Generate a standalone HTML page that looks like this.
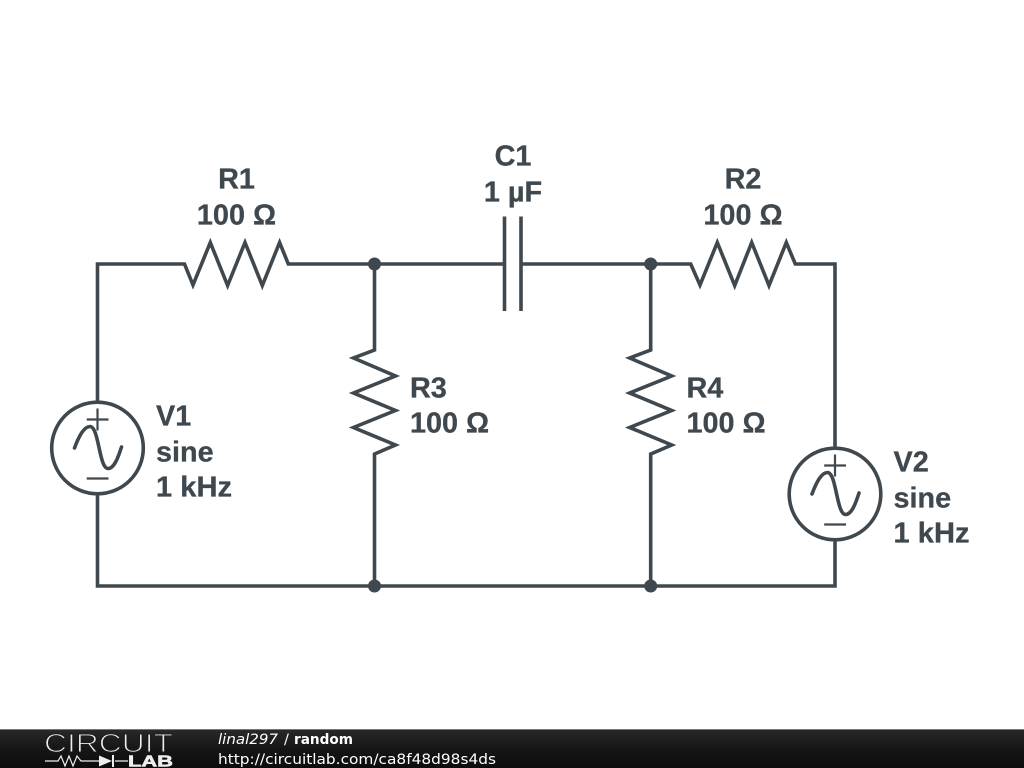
<!DOCTYPE html>
<html><head><meta charset="utf-8"><style>
html,body{margin:0;padding:0;background:#fff;width:1024px;height:768px;overflow:hidden}
svg{display:block}
.w{fill:none;stroke:#3f484e;stroke-width:3.6;stroke-linejoin:miter}
.p{fill:none;stroke:#3f484e;stroke-width:2.2}
.t{font-family:"Liberation Sans",sans-serif;font-weight:bold;font-size:28.8px;fill:#3f484e;stroke:#3f484e;stroke-width:0.3}
.f{font-family:"DejaVu Sans",sans-serif;fill:#fff}
</style></head><body>
<svg width="1024" height="768" viewBox="0 0 1024 768" xmlns="http://www.w3.org/2000/svg">
<defs>
<linearGradient id="g" x1="0" y1="0" x2="0" y2="1"><stop offset="0" stop-color="#2a2a2a"/><stop offset="0.5" stop-color="#161616"/><stop offset="1" stop-color="#0c0c0c"/></linearGradient>
</defs>
<rect width="1024" height="768" fill="#fff"/>
<path class="w" d="M97.5 402V264H184.5L193 285 210.3 242.5 227.6 285.500 245 242.5 262.3 285.500 279.6 242.5 288.3 264H504.5M521 264H690.7L700 285 717.3 242.5 734.7 285.500 751.7 242.5 769 285.500 786.3 242.5 795.3 264H835V448"/>
<path class="w" d="M97.5 494V586H835V541"/>
<path class="w" d="M504.5 216.5V311M521 216.5V311"/>
<path class="w" d="M374.5 264V350L353.500 358 395.500 376 353.500 393 395.500 410.5 353.500 427.5 395.500 445 374.5 454V586"/>
<path class="w" d="M650.7 264V350L629.700 358 671.700 376 629.700 393 671.700 410.5 629.700 427.5 671.700 445 650.7 454V586"/>
<circle cx="374.5" cy="264" r="6.5" fill="#3f484e"/>
<circle cx="650.7" cy="264" r="6.5" fill="#3f484e"/>
<circle cx="374.5" cy="586" r="6.5" fill="#3f484e"/>
<circle cx="650.7" cy="586" r="6.5" fill="#3f484e"/>
<g>
<circle class="w" cx="97.5" cy="448" r="45.8"/>
<path class="p" d="M86.7 419.5H108.5M97.5 408.5V430.5M86.7 478.5H108.5"/>
<path class="w" stroke-linecap="round" d="M74.5 448C79 436 84 426.5 90 426.5 99 426.5 99 468.5 108 468.5 114 468.5 118 458 121.5 447"/>
</g>
<g transform="translate(737.5 46)">
<circle class="w" cx="97.5" cy="448" r="45.8"/>
<path class="p" d="M86.7 419.5H108.5M97.5 408.5V430.5M86.7 478.5H108.5"/>
<path class="w" stroke-linecap="round" d="M74.5 448C79 436 84 426.5 90 426.5 99 426.5 99 468.5 108 468.5 114 468.5 118 458 121.5 447"/>
</g>
<text class="t" x="236.500" y="188.500" text-anchor="middle">R1</text>
<text class="t" x="236.500" y="224.500" text-anchor="middle">100 Ω</text>
<text class="t" x="513" y="165.500" text-anchor="middle">C1</text>
<text class="t" x="513" y="201.500" text-anchor="middle">1 µF</text>
<text class="t" x="743" y="188.500" text-anchor="middle">R2</text>
<text class="t" x="743" y="224.500" text-anchor="middle">100 Ω</text>
<text class="t" x="410" y="397.500">R3</text>
<text class="t" x="410" y="432.500">100 Ω</text>
<text class="t" x="686.500" y="397.500">R4</text>
<text class="t" x="686.500" y="432.500">100 Ω</text>
<text class="t" x="156" y="425.500" >V1</text>
<text class="t" x="156" y="461.500">sine</text>
<text class="t" x="156" y="496.500" textLength="76" lengthAdjust="spacingAndGlyphs">1 kHz</text>
<text class="t" x="893.500" y="471.500">V2</text>
<text class="t" x="893.500" y="507.500">sine</text>
<text class="t" x="893.500" y="542.500" textLength="76" lengthAdjust="spacingAndGlyphs">1 kHz</text>
<rect x="0" y="729" width="1024" height="39" fill="url(#g)"/>
<rect x="0" y="729" width="1024" height="1" fill="#777"/>
<text x="44" y="752" font-family="Liberation Sans,sans-serif" font-size="26" fill="#eee" stroke="#1c1c1c" stroke-width="1.1" textLength="129" lengthAdjust="spacingAndGlyphs">CIRCUIT</text>
<path d="M45 761H58L61 756 65 766 69 756 73 766 77 756 81 761H99M115 761H128" fill="none" stroke="#eee" stroke-width="1.2"/>
<path d="M99 755.500L112 761 99 766.500Z" fill="#eee"/>
<path d="M113 755V767" stroke="#eee" stroke-width="2"/>
<text x="128" y="766.500" font-family="Liberation Sans,sans-serif" font-size="15.500" font-weight="bold" fill="#eee" stroke="#eee" stroke-width="0.6" textLength="45" lengthAdjust="spacingAndGlyphs">LAB</text>
<text class="f" x="218" y="744" font-size="14.6" font-style="italic" textLength="60" lengthAdjust="spacingAndGlyphs">linal297</text>
<text class="f" x="284" y="744" font-size="14.6">/</text>
<text class="f" x="294" y="744" font-size="14.6" font-weight="bold" textLength="59" lengthAdjust="spacingAndGlyphs">random</text>
<text class="f" x="218" y="764" font-size="14.5" textLength="278" lengthAdjust="spacingAndGlyphs">http://circuitlab.com/ca8f48d98s4ds</text>
</svg>
</body></html>
